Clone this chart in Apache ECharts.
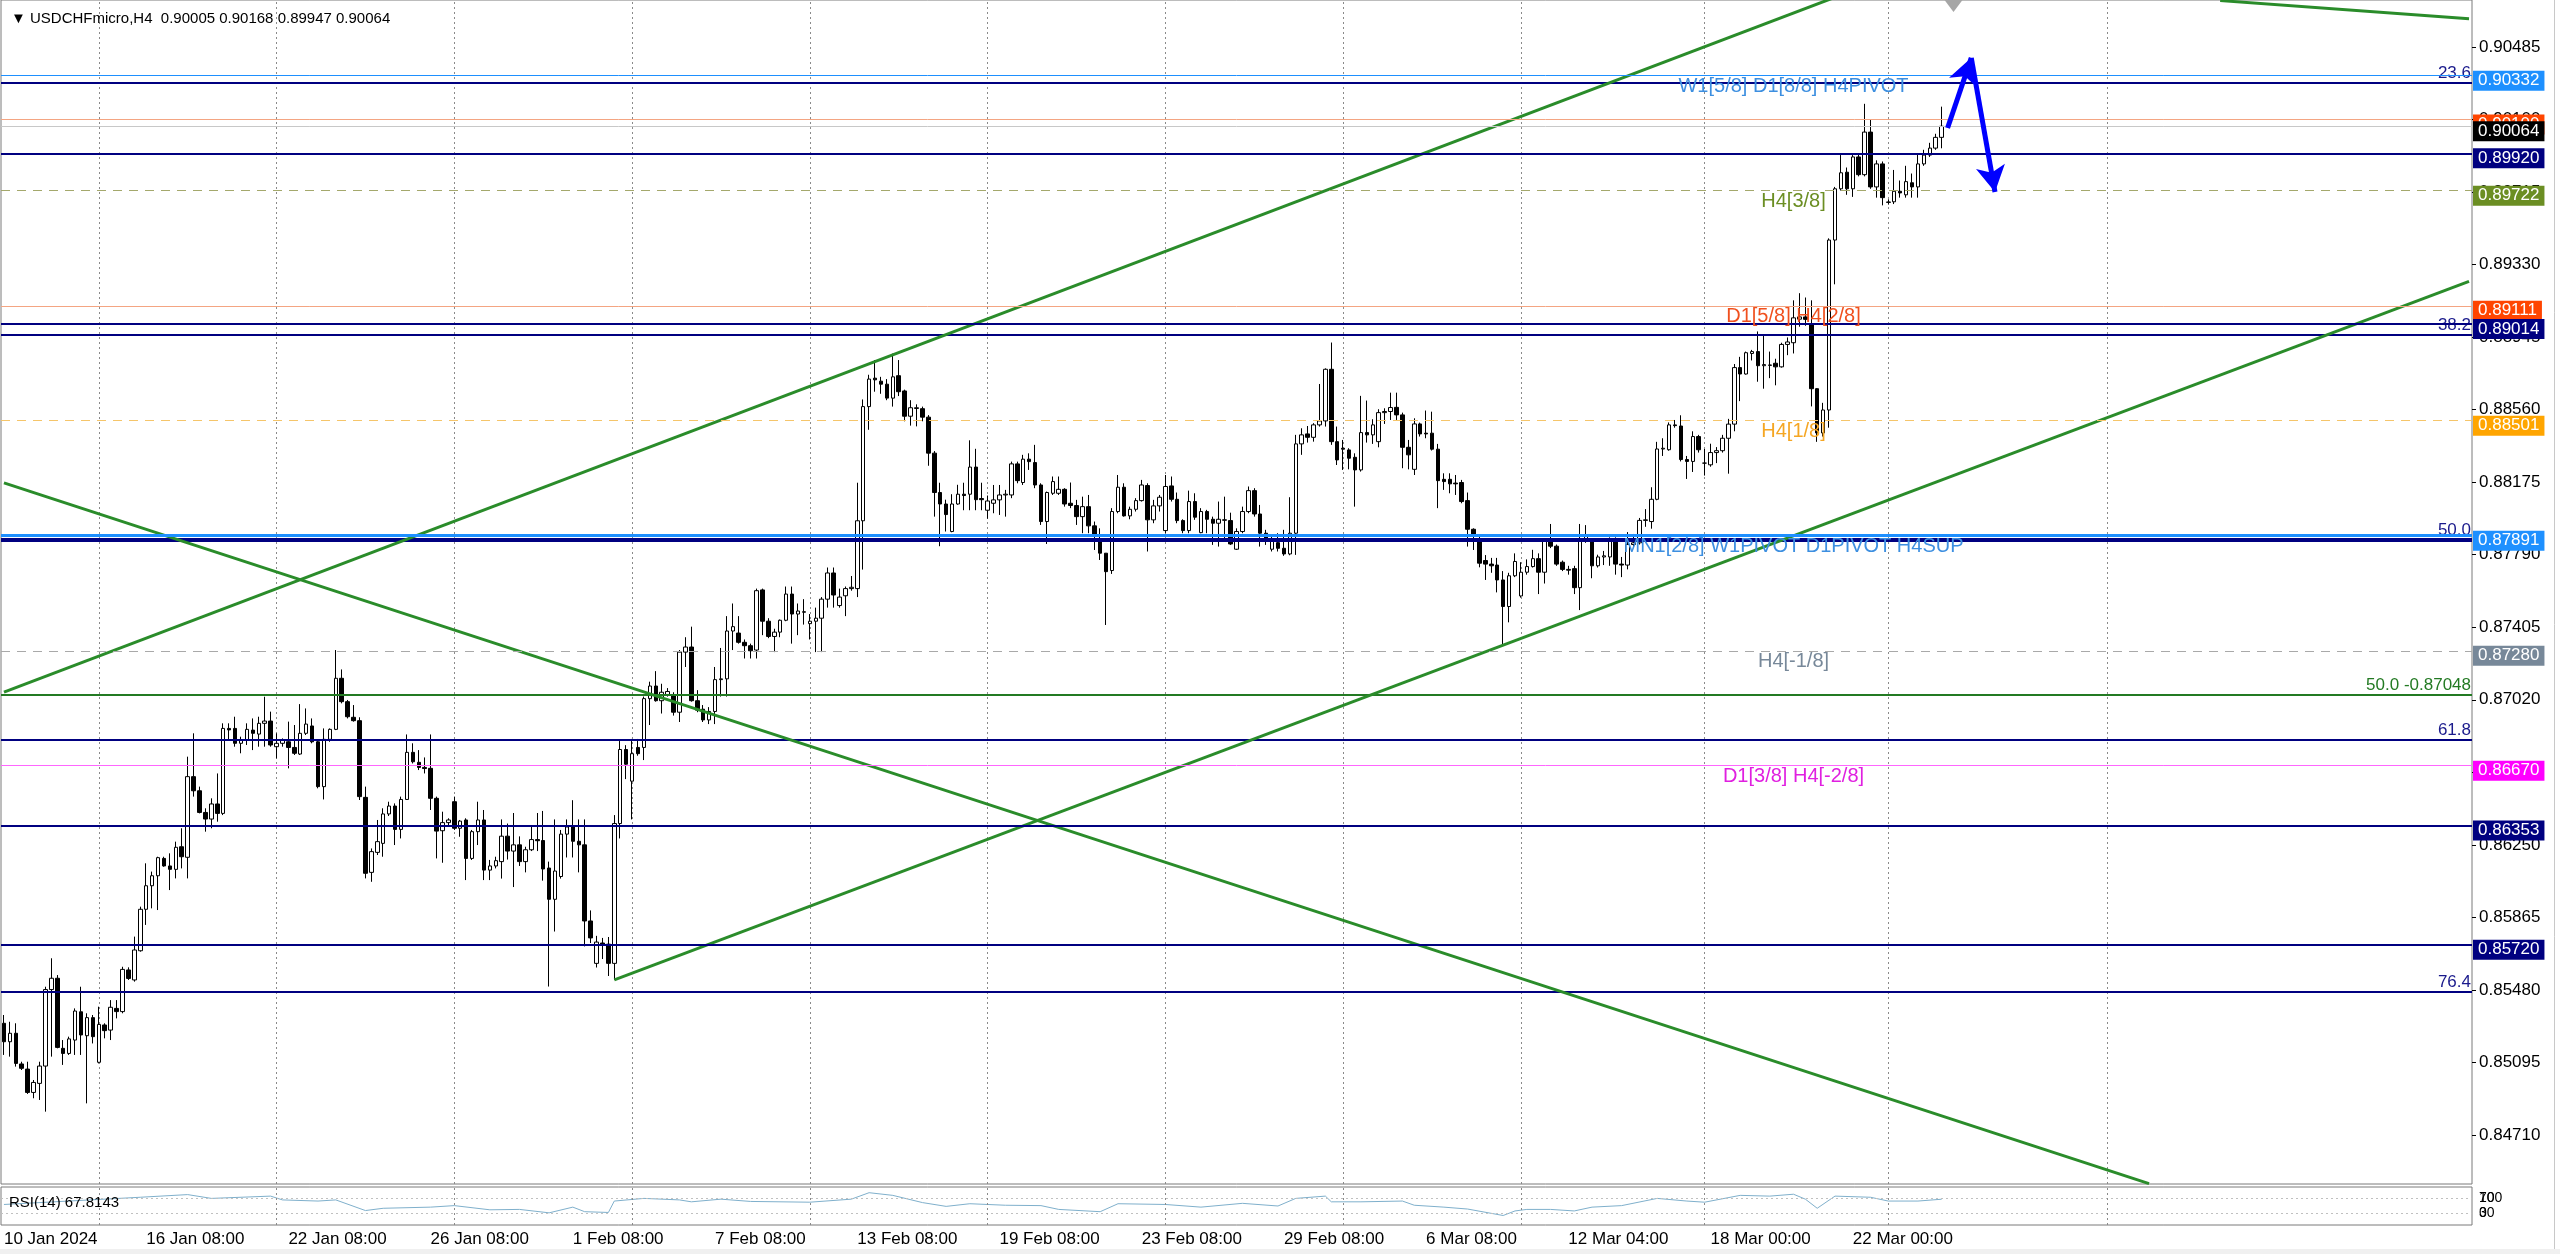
<!DOCTYPE html>
<html><head><meta charset="utf-8">
<script src="https://cdn.jsdelivr.net/npm/echarts@6/dist/echarts.min.js"></script>
<style>html,body{margin:0;padding:0;background:#fff;overflow:hidden}#c{width:2560px;height:1254px}</style>
</head><body><div id="c"></div>
<script>
const symbolName = 'USDCHFmicro,H4';
const opens = [0.85303,0.85205,0.85250,0.85087,0.85060,0.84936,0.84984,0.85076,0.85482,0.85542,
0.85170,0.85143,0.85214,0.85364,0.85237,0.85333,0.85096,0.85294,0.85267,0.85382,
0.85365,0.85586,0.85533,0.85688,0.85908,0.86033,0.86086,0.86178,0.86138,0.86120,
0.86240,0.86184,0.86612,0.86537,0.86422,0.86387,0.86467,0.86417,0.86868,0.86868,
0.86789,0.86806,0.86859,0.86838,0.86895,0.86907,0.86771,0.86789,0.86797,0.86767,
0.86732,0.86842,0.86881,0.86797,0.86559,0.86810,0.86863,0.87134,0.87010,0.86927,
0.86909,0.86502,0.86104,0.86210,0.86258,0.86414,0.86456,0.86332,0.86491,0.86741,
0.86688,0.86661,0.86656,0.86497,0.86325,0.86368,0.86479,0.86338,0.86382,0.86178,
0.86320,0.86382,0.86116,0.86138,0.86161,0.86296,0.86217,0.86250,0.86161,0.86224,
0.86278,0.86273,0.86127,0.85961,0.86082,0.86307,0.86345,0.86269,0.86250,0.85846,
0.85621,0.85729,0.85723,0.85621,0.86363,0.86756,0.86588,0.86767,0.86767,0.87026,
0.87093,0.87015,0.87048,0.87048,0.86954,0.87273,0.87300,0.87015,0.86970,0.86913,
0.86958,0.87127,0.87131,0.87385,0.87374,0.87325,0.87307,0.87284,0.87603,0.87437,
0.87356,0.87379,0.87442,0.87581,0.87475,0.87487,0.87424,0.87437,0.87453,0.87554,
0.87693,0.87520,0.87572,0.87610,0.87610,0.87970,0.88576,0.88727,0.88711,0.88695,
0.88621,0.88740,0.88659,0.88525,0.88566,0.88565,0.88520,0.88329,0.88120,0.88059,
0.87913,0.88059,0.88111,0.88111,0.88255,0.88088,0.88026,0.88063,0.88081,0.88107,
0.88107,0.88272,0.88173,0.88297,0.88279,0.88160,0.87966,0.88116,0.88116,0.88137,
0.88063,0.88051,0.87992,0.88045,0.87943,0.87868,0.87798,0.87706,0.88019,0.88148,
0.87996,0.88031,0.88077,0.88157,0.87975,0.88049,0.87918,0.88155,0.88084,0.87971,
0.87918,0.88072,0.87907,0.88019,0.87978,0.87957,0.87975,0.87971,0.87819,0.87913,
0.88019,0.88130,0.88006,0.87904,0.87819,0.87854,0.87824,0.87794,0.87904,0.88378,
0.88431,0.88413,0.88479,0.88500,0.88774,0.88390,0.88355,0.88346,0.88307,0.88240,
0.88438,0.88426,0.88390,0.88544,0.88550,0.88572,0.88532,0.88360,0.88243,0.88484,
0.88435,0.88435,0.88350,0.88190,0.88190,0.88170,0.88173,0.88077,0.87925,0.87860,
0.87759,0.87740,0.87735,0.87656,0.87515,0.87678,0.87571,0.87697,0.87727,0.87769,
0.87697,0.87863,0.87835,0.87750,0.87712,0.87716,0.87615,0.87872,0.87867,0.87731,
0.87778,0.87778,0.87867,0.87740,0.87735,0.87844,0.87853,0.87972,0.87966,0.88084,
0.88351,0.88347,0.88479,0.88473,0.88295,0.88285,0.88417,0.88276,0.88267,0.88332,
0.88342,0.88408,0.88483,0.88783,0.88749,0.88858,0.88868,0.88793,0.88797,0.88806,
0.88787,0.88906,0.88915,0.89040,0.89052,0.89014,0.88671,0.88436,0.88558,0.89460,
0.89732,0.89820,0.89732,0.89901,0.89807,0.90033,0.89742,0.89864,0.89662,0.89663,
0.89719,0.89700,0.89764,0.89742,0.89864,0.89911,0.89948,0.90005];
const highs = [0.85347,0.85311,0.85303,0.85099,0.85099,0.85002,0.85099,0.85497,0.85648,0.85559,
0.85214,0.85232,0.85382,0.85497,0.85356,0.85347,0.85391,0.85303,0.85426,0.85426,
0.85603,0.85600,0.85763,0.85922,0.86152,0.86108,0.86187,0.86187,0.86205,0.86267,
0.86338,0.86718,0.86842,0.86559,0.86444,0.86497,0.86629,0.86895,0.86895,0.86930,
0.86824,0.86895,0.86921,0.86930,0.87036,0.86957,0.86842,0.86815,0.86904,0.86886,
0.86997,0.86974,0.86921,0.86806,0.86868,0.86868,0.87284,0.87181,0.87019,0.86992,
0.86927,0.86559,0.86231,0.86382,0.86444,0.86479,0.86470,0.86506,0.86836,0.86789,
0.86753,0.86714,0.86836,0.86506,0.86426,0.86391,0.86506,0.86382,0.86391,0.86329,
0.86479,0.86435,0.86170,0.86187,0.86385,0.86363,0.86419,0.86295,0.86240,0.86352,
0.86419,0.86430,0.86161,0.86385,0.86329,0.86385,0.86487,0.86385,0.86385,0.85902,
0.85767,0.85756,0.85761,0.86408,0.86801,0.86779,0.86812,0.86812,0.87037,0.87116,
0.87172,0.87105,0.87082,0.87060,0.87284,0.87352,0.87408,0.87071,0.86992,0.86981,
0.87194,0.87295,0.87464,0.87531,0.87464,0.87340,0.87318,0.87610,0.87610,0.87453,
0.87397,0.87446,0.87621,0.87621,0.87531,0.87554,0.87475,0.87509,0.87565,0.87722,
0.87722,0.87610,0.87621,0.87677,0.88172,0.88614,0.88745,0.88823,0.88734,0.88722,
0.88857,0.88823,0.88666,0.88610,0.88588,0.88576,0.88531,0.88340,0.88172,0.88082,
0.88111,0.88161,0.88172,0.88397,0.88352,0.88172,0.88104,0.88160,0.88160,0.88134,
0.88284,0.88284,0.88320,0.88328,0.88373,0.88169,0.88125,0.88205,0.88205,0.88143,
0.88173,0.88081,0.88098,0.88107,0.87966,0.87930,0.87798,0.88037,0.88213,0.88169,
0.88045,0.88090,0.88187,0.88169,0.88081,0.88107,0.88213,0.88205,0.88120,0.87978,
0.88130,0.88116,0.88037,0.88028,0.87992,0.88072,0.88098,0.88013,0.87930,0.88045,
0.88152,0.88143,0.88054,0.87922,0.87886,0.87904,0.87922,0.88095,0.88426,0.88461,
0.88473,0.88488,0.88696,0.88779,0.88916,0.88470,0.88399,0.88355,0.88328,0.88633,
0.88608,0.88509,0.88562,0.88567,0.88650,0.88650,0.88544,0.88399,0.88514,0.88491,
0.88555,0.88549,0.88378,0.88222,0.88222,0.88213,0.88187,0.88120,0.87930,0.87886,
0.87788,0.87773,0.87773,0.87703,0.87694,0.87797,0.87750,0.87765,0.87816,0.87797,
0.87878,0.87953,0.87844,0.87759,0.87731,0.87731,0.87953,0.87947,0.87872,0.87790,
0.87810,0.87882,0.87882,0.87778,0.87910,0.87900,0.87985,0.88032,0.88148,0.88389,
0.88408,0.88492,0.88505,0.88530,0.88314,0.88445,0.88426,0.88351,0.88379,0.88361,
0.88426,0.88511,0.88802,0.88840,0.88868,0.88877,0.88975,0.88953,0.88868,0.88830,
0.88915,0.88943,0.89140,0.89178,0.89155,0.89140,0.88674,0.88596,0.89469,0.89742,
0.89911,0.89845,0.89911,0.89915,0.90183,0.90102,0.89883,0.89877,0.89676,0.89832,
0.89776,0.89854,0.89813,0.89915,0.89939,0.89976,0.90024,0.90168];
const lows = [0.85135,0.85126,0.85073,0.85055,0.84928,0.84905,0.84896,0.84834,0.85126,0.85170,
0.85082,0.85135,0.85135,0.85135,0.84878,0.85196,0.85090,0.85223,0.85214,0.85329,
0.85356,0.85533,0.85524,0.85683,0.85825,0.85913,0.85904,0.86134,0.86010,0.86072,
0.86125,0.86072,0.86506,0.86417,0.86320,0.86338,0.86373,0.86408,0.86806,0.86771,
0.86736,0.86780,0.86753,0.86771,0.86771,0.86771,0.86709,0.86771,0.86656,0.86727,
0.86727,0.86833,0.86789,0.86550,0.86491,0.86797,0.86859,0.87001,0.86921,0.86904,
0.86488,0.86072,0.86054,0.86196,0.86187,0.86403,0.86249,0.86284,0.86488,0.86682,
0.86647,0.86629,0.86435,0.86178,0.86155,0.86355,0.86329,0.86293,0.86063,0.86170,
0.86249,0.86063,0.86063,0.86125,0.86071,0.86172,0.86026,0.86138,0.86104,0.86217,
0.86217,0.86060,0.85498,0.85790,0.86071,0.86183,0.86183,0.86104,0.85711,0.85729,
0.85599,0.85644,0.85554,0.85533,0.86284,0.86599,0.86385,0.86723,0.86700,0.86886,
0.87010,0.86947,0.87037,0.86936,0.86902,0.87194,0.87010,0.86954,0.86902,0.86891,
0.86891,0.87037,0.87037,0.87284,0.87318,0.87239,0.87239,0.87239,0.87363,0.87347,
0.87273,0.87352,0.87437,0.87318,0.87363,0.87419,0.87340,0.87273,0.87273,0.87509,
0.87509,0.87509,0.87464,0.87599,0.87565,0.87711,0.88453,0.88655,0.88644,0.88610,
0.88576,0.88632,0.88498,0.88475,0.88471,0.88498,0.88262,0.87992,0.87835,0.87913,
0.87909,0.88055,0.88026,0.88026,0.88026,0.88026,0.87981,0.88010,0.88001,0.87992,
0.88090,0.88169,0.88160,0.88240,0.88143,0.87948,0.87847,0.88107,0.88107,0.88045,
0.88037,0.87948,0.87904,0.87904,0.87815,0.87762,0.87417,0.87688,0.88010,0.87992,
0.87978,0.88019,0.88072,0.87807,0.87957,0.88019,0.87904,0.88072,0.87957,0.87904,
0.87904,0.87975,0.87904,0.87904,0.87842,0.87833,0.87860,0.87842,0.87815,0.87904,
0.88010,0.87992,0.87833,0.87842,0.87807,0.87807,0.87784,0.87787,0.87789,0.88320,
0.88385,0.88390,0.88470,0.88470,0.88373,0.88266,0.88240,0.88243,0.88045,0.88231,
0.88385,0.88378,0.88360,0.88484,0.88505,0.88505,0.88249,0.88243,0.88213,0.88417,
0.88408,0.88343,0.88037,0.88134,0.88116,0.88107,0.88063,0.87833,0.87815,0.87723,
0.87656,0.87694,0.87590,0.87308,0.87431,0.87671,0.87562,0.87684,0.87722,0.87581,
0.87637,0.87825,0.87731,0.87703,0.87684,0.87581,0.87496,0.87853,0.87665,0.87722,
0.87735,0.87731,0.87684,0.87671,0.87712,0.87825,0.87844,0.87938,0.87928,0.88079,
0.88314,0.88342,0.88464,0.88285,0.88192,0.88229,0.88332,0.88210,0.88257,0.88276,
0.88332,0.88220,0.88445,0.88605,0.88746,0.88821,0.88708,0.88671,0.88727,0.88689,
0.88783,0.88849,0.88858,0.89000,0.89005,0.88577,0.88389,0.88417,0.88464,0.89225,
0.89723,0.89700,0.89689,0.89798,0.89798,0.89732,0.89685,0.89644,0.89648,0.89651,
0.89685,0.89685,0.89685,0.89685,0.89854,0.89901,0.89939,0.89947];
const closes = [0.85205,0.85250,0.85090,0.85064,0.84936,0.84989,0.85076,0.85482,0.85542,0.85175,
0.85143,0.85220,0.85368,0.85241,0.85333,0.85232,0.85297,0.85264,0.85388,0.85365,
0.85589,0.85541,0.85692,0.85908,0.86033,0.86086,0.86182,0.86138,0.86120,0.86237,
0.86187,0.86612,0.86537,0.86422,0.86387,0.86467,0.86417,0.86868,0.86860,0.86789,
0.86806,0.86863,0.86842,0.86895,0.86907,0.86780,0.86789,0.86806,0.86767,0.86736,
0.86842,0.86891,0.86797,0.86559,0.86810,0.86863,0.87134,0.87010,0.86930,0.86909,
0.86506,0.86099,0.86214,0.86267,0.86414,0.86456,0.86332,0.86491,0.86741,0.86691,
0.86661,0.86655,0.86497,0.86323,0.86368,0.86382,0.86338,0.86376,0.86178,0.86320,
0.86382,0.86116,0.86138,0.86166,0.86296,0.86217,0.86250,0.86161,0.86224,0.86278,
0.86272,0.86122,0.85961,0.86111,0.86307,0.86345,0.86269,0.86250,0.85846,0.85756,
0.85734,0.85718,0.85621,0.86363,0.86756,0.86678,0.86734,0.86734,0.87026,0.87093,
0.87015,0.87060,0.87064,0.86954,0.87273,0.87300,0.87015,0.86965,0.86913,0.86958,
0.87127,0.87131,0.87385,0.87408,0.87325,0.87307,0.87280,0.87599,0.87437,0.87356,
0.87379,0.87442,0.87581,0.87475,0.87491,0.87485,0.87437,0.87453,0.87554,0.87693,
0.87576,0.87565,0.87610,0.87617,0.87970,0.88576,0.88722,0.88718,0.88695,0.88621,
0.88734,0.88655,0.88525,0.88570,0.88570,0.88520,0.88329,0.88120,0.88059,0.88003,
0.88059,0.88111,0.88104,0.88255,0.88082,0.88082,0.88075,0.88081,0.88107,0.88111,
0.88272,0.88183,0.88297,0.88284,0.88160,0.87966,0.88120,0.88178,0.88137,0.88059,
0.88051,0.87992,0.88045,0.87943,0.87900,0.87798,0.87700,0.88019,0.88148,0.87996,
0.88031,0.88077,0.88160,0.87975,0.88049,0.88095,0.88152,0.88084,0.87971,0.87918,
0.88072,0.87989,0.88019,0.87978,0.87957,0.87978,0.87973,0.87847,0.87913,0.88019,
0.88130,0.88006,0.87904,0.87868,0.87868,0.87824,0.87794,0.87904,0.88378,0.88426,
0.88413,0.88479,0.88500,0.88774,0.88390,0.88293,0.88350,0.88302,0.88240,0.88438,
0.88426,0.88479,0.88544,0.88550,0.88571,0.88532,0.88360,0.88320,0.88484,0.88431,
0.88431,0.88350,0.88183,0.88178,0.88166,0.88166,0.88072,0.87925,0.87900,0.87745,
0.87740,0.87731,0.87656,0.87515,0.87678,0.87754,0.87697,0.87727,0.87769,0.87697,
0.87863,0.87835,0.87740,0.87712,0.87708,0.87615,0.87872,0.87891,0.87731,0.87778,
0.87784,0.87867,0.87740,0.87735,0.87844,0.87853,0.87972,0.87975,0.88084,0.88351,
0.88355,0.88479,0.88475,0.88295,0.88285,0.88417,0.88347,0.88276,0.88332,0.88342,
0.88408,0.88483,0.88783,0.88749,0.88862,0.88868,0.88793,0.88799,0.88795,0.88787,
0.88906,0.88919,0.89047,0.89052,0.89039,0.88671,0.88436,0.88558,0.89460,0.89732,
0.89817,0.89732,0.89901,0.89807,0.90033,0.89742,0.89864,0.89685,0.89660,0.89719,
0.89710,0.89770,0.89742,0.89864,0.89911,0.89948,0.90005,0.90064];

const slotCount = 417;
const xLabelBars = [0,24,48,72,96,120,144,168,192,216,240,264,288,312];
const xLabelTexts = ['10 Jan 2024','16 Jan 08:00','22 Jan 08:00','26 Jan 08:00','1 Feb 08:00','7 Feb 08:00','13 Feb 08:00','19 Feb 08:00','23 Feb 08:00','29 Feb 08:00','6 Mar 08:00','12 Mar 04:00','18 Mar 00:00','22 Mar 00:00'];
const gridBars = [16,46,76,106,136,166,196,226,256,287,318,355];
const yTickValues = [0.90485,0.90100,0.89715,0.89330,0.88945,0.88560,0.88175,0.87790,0.87405,0.87020,0.86635,0.86250,0.85865,0.85480,0.85095,0.84710];
const yMin = 0.84450, yMax = 0.90734;

const rsiBars = [0,23,31,35,45,47,53,56,61,64,72,76,82,87,92,96,98,102,103,108,114,116,121,126,136,143,146,150,155,159,163,169,175,178,185,188,196,202,209,215,218,223,224,229,236,238,243,247,253,255,257,261,265,268,273,279,284,287,293,298,302,304,306,309,315,318,323,327];
const rsiValues = [54,73,80,70,76,66,63,66,38,44,47,51,40,41,32,47,35,33,63,70,66,61,68,62,60,68,85,78,59,49,56,52,51,41,35,56,54,47,57,50,70,76,61,61,63,52,47,42,25,37,41,41,37,47,51,70,63,60,78,76,81,68,44,76,73,63,63,67.81];
const rsiLast = 67.8143;
const rsiLevels = [70, 30];

const boxLevelValues = [0.90332,0.90100,0.90064,0.89920,0.89722,0.89111,0.89014,0.88501,0.87891,0.87280,0.86670,0.86353,0.85720];
const fibValues = [0.90294,0.88958,0.87868,0.86807,0.85471];
const fibNames = ['23.6','38.2','50.0','61.8','76.4'];
const greenLevel = 0.87048;
const greenLevelText = '50.0 -0.87048';
const levelTextPrices = [0.90332,0.89722,0.89111,0.88501,0.87891,0.87280,0.86670];
const levelTexts = ['W1[5/8] D1[8/8] H4PIVOT','H4[3/8]','D1[5/8] H4[2/8]','H4[1/8]','MN1[2/8] W1PIVOT D1PIVOT H4SUP','H4[-1/8]','D1[3/8] H4[-2/8]'];
const levelTextBar = 302;
const trendLines = [
  [[0,0.87061],[330,0.90999]],
  [[103,0.85533],[416,0.89241]],
  [[0,0.88171],[362,0.84452]],
  [[374,0.90731],[416,0.90634]]
];
const arrowPoints = [[328,0.90055],[332,0.90427],[336,0.89715]];
const shiftMarker = [329, 0.90702];

// ---------- styles ----------
const font = '"Liberation Sans", Arial, sans-serif';
const boxStyles = [
  {line:'#1e90ff', w:1, type:'solid', box:'#1e90ff'},
  {line:'#f4a582', w:1, type:'solid', box:'#ff4500'},
  {line:'#c8c8c8', w:1, type:'solid', box:'#000000'},
  {line:'#000080', w:2, type:'solid', box:'#000080'},
  {line:'#a4a86c', w:1, type:[9,7], box:'#6b8e23'},
  {line:'#f4a582', w:1, type:'solid', box:'#ff4500'},
  {line:'#000080', w:2, type:'solid', box:'#000080'},
  {line:'#f5c56a', w:1, type:[9,7], box:'#ffa500'},
  {line:'#1e90ff', w:3, type:'solid', box:'#1e90ff'},
  {line:'#a9a9a9', w:1, type:[9,7], box:'#778899'},
  {line:'#ff66ff', w:1, type:'solid', box:'#ff00ff'},
  {line:'#000080', w:2, type:'solid', box:'#000080'},
  {line:'#000080', w:2, type:'solid', box:'#000080'}
];
const textColors = ['#3d8fe0','#6b8e23','#f0501e','#f5a623','#3d8fe0','#778899','#e020e0'];
const fibWidths = [2,2,4,2,2];

const cats = Array.from({length: slotCount}, (_, i) => String(i));
const candleData = opens.map((o, i) => [o, closes[i], lows[i], highs[i]]);
const labelMap = {};
xLabelBars.forEach((b, i) => { labelMap[b] = xLabelTexts[i]; });
const last = opens.length - 1;
const titleText = '\u25BC ' + symbolName + '  ' + [opens[last], highs[last], lows[last], closes[last]].map(v => v.toFixed(5)).join(' ');

const vGrid = gridBars.map(b => ({xAxis: b}));

const chart = echarts.init(document.getElementById('c'), null, {renderer: 'canvas'});
const option = {
  animation: false,
  backgroundColor: '#ffffff',
  title: [
    {text: titleText, left: 6, top: 6, textStyle: {fontSize: 15, fontWeight: 'normal', color: '#000', fontFamily: font}},
    {text: 'RSI(14) ' + rsiLast.toFixed(4), left: 4, top: 1190, textStyle: {fontSize: 15, fontWeight: 'normal', color: '#000', fontFamily: font}}
  ],
  grid: [
    {left: 1, right: 88, top: 0, height: 1184, show: true, borderColor: '#7a7a7a', borderWidth: 1, backgroundColor: 'transparent'},
    {left: 1, right: 88, top: 1187, height: 38, show: true, borderColor: '#7a7a7a', borderWidth: 1, backgroundColor: 'transparent'}
  ],
  xAxis: [
    {type: 'category', data: cats, gridIndex: 0, boundaryGap: true, axisLine: {show: false}, axisTick: {show: false}, axisLabel: {show: false}, splitLine: {show: false}},
    {type: 'category', data: cats, gridIndex: 1, boundaryGap: true, axisLine: {show: false}, axisTick: {show: false}, splitLine: {show: false},
      axisLabel: {show: true, interval: (i) => labelMap[i] !== undefined, formatter: (v, i) => labelMap[i] || '', align: 'left', fontSize: 17, color: '#000', margin: 6, fontFamily: font}}
  ],
  yAxis: [
    {type: 'value', gridIndex: 0, position: 'right', min: yMin, max: yMax, axisLine: {show: false}, splitLine: {show: false},
      axisTick: {show: true, length: 4, lineStyle: {color: '#000'}, customValues: yTickValues},
      axisLabel: {show: true, customValues: yTickValues, formatter: v => v.toFixed(5), fontSize: 17, color: '#000', margin: 7, fontFamily: font}},
    {type: 'value', gridIndex: 1, position: 'right', min: 0, max: 100, axisLine: {show: false}, splitLine: {show: false}, axisTick: {show: false},
      axisLabel: {show: true, customValues: rsiLevels, formatter: v => String(v), fontSize: 14, lineHeight: 12, hideOverlap: false, color: '#000', margin: 7, fontFamily: font}},
    {type: 'value', gridIndex: 1, position: 'right', min: 0, max: 100, axisLine: {show: false}, splitLine: {show: false}, axisTick: {show: false},
      axisLabel: {show: true, customValues: rsiLevels, formatter: v => (v === 70 ? '100' : '0'), fontSize: 14, lineHeight: 12, hideOverlap: false, color: '#000', margin: 7, fontFamily: font}}
  ],
  series: [
    {
      type: 'line', name: 'grid', xAxisIndex: 0, yAxisIndex: 0, data: [], silent: true, z: 1,
      markLine: {silent: true, z: 1, precision: 5, symbol: ['none', 'none'], label: {show: false}, animation: false,
        lineStyle: {color: '#8a8a8a', width: 1, type: [2, 3]}, data: vGrid}
    },
    {
      type: 'candlestick', name: symbolName, xAxisIndex: 0, yAxisIndex: 0, data: candleData, barWidth: 4, z: 2,
      itemStyle: {color: '#ffffff', color0: '#000000', borderColor: '#000000', borderColor0: '#000000', borderWidth: 1}
    },
    {
      type: 'line', name: 'fib', xAxisIndex: 0, yAxisIndex: 0, data: [], silent: true, z: 3,
      markLine: {silent: true, z: 3, precision: 5, symbol: ['none', 'none'], animation: false,
        data: fibValues.map((v, i) => ({
          yAxis: v,
          lineStyle: {color: '#000080', width: fibWidths[i], type: 'solid'},
          label: {show: true, position: 'insideEndTop', formatter: fibNames[i], color: '#1a1a8c', fontSize: 17, fontFamily: font, distance: 1}
        })).concat([{
          yAxis: greenLevel,
          lineStyle: {color: '#237a23', width: 2, type: 'solid'},
          label: {show: true, position: 'insideEndTop', formatter: greenLevelText, color: '#237a23', fontSize: 17, fontFamily: font, distance: 1}
        }])}
    },
    {
      type: 'line', name: 'levels', xAxisIndex: 0, yAxisIndex: 0, data: [], silent: true, z: 5,
      markLine: {silent: true, z: 5, precision: 5, symbol: ['none', 'none'], animation: false,
        data: boxLevelValues.map((v, i) => ({
          yAxis: v,
          lineStyle: {color: boxStyles[i].line, width: boxStyles[i].w, type: boxStyles[i].type},
          label: {show: true, position: 'end', formatter: v.toFixed(5), color: '#ffffff', backgroundColor: boxStyles[i].box,
            padding: [2, 5, 1, 5], fontSize: 17, fontFamily: font, distance: 1, offset: [0, 5]}
        }))}
    },
    ...trendLines.map((seg, k) => ({
      type: 'line', name: 'trend' + k, xAxisIndex: 0, yAxisIndex: 0, data: seg, symbol: 'none', silent: true, z: 4, clip: true,
      lineStyle: {color: '#2a8c2a', width: 3}
    })),
    {
      type: 'line', name: 'annot', xAxisIndex: 0, yAxisIndex: 0, data: [], silent: true, z: 6,
      markLine: {silent: true, z: 6, precision: 5, animation: false, symbol: ['none', 'arrow'], symbolSize: [22, 26],
        lineStyle: {color: '#0000ff', width: 5, type: 'solid'}, label: {show: false},
        data: [
          [{coord: arrowPoints[0]}, {coord: arrowPoints[1]}],
          [{coord: arrowPoints[1]}, {coord: arrowPoints[2]}]
        ]},
      markPoint: {silent: true, z: 6, animation: false,
        data: levelTextPrices.map((p, i) => ({
          coord: [levelTextBar, p], symbol: 'circle', symbolSize: 1, itemStyle: {color: 'rgba(0,0,0,0)'},
          label: {show: true, position: 'inside', formatter: levelTexts[i], color: textColors[i], fontSize: 20, fontFamily: font, offset: [0, 11]}
        })).concat([{
          coord: shiftMarker, symbol: 'triangle', symbolRotate: 180, symbolSize: [18, 12], itemStyle: {color: '#a6a6a6'}, label: {show: false}
        }])}
    },
    {
      type: 'line', name: 'RSI', xAxisIndex: 1, yAxisIndex: 1, data: rsiBars.map((b, i) => [b, rsiValues[i]]), symbol: 'none', silent: true,
      lineStyle: {color: '#7fb0cc', width: 1}, z: 3,
      markLine: {silent: true, precision: 5, symbol: ['none', 'none'], animation: false, label: {show: false},
        data: rsiLevels.map(v => ({yAxis: v, lineStyle: {color: '#c0c0c0', width: 1, type: [2, 3]}}))
          .concat(vGrid.map(g => ({xAxis: g.xAxis, lineStyle: {color: '#8a8a8a', width: 1, type: [2, 3]}})))}
    }
  ],
  graphic: [
    {type: 'line', shape: {x1: 2554.5, y1: 0, x2: 2554.5, y2: 1249}, style: {stroke: '#c8c8c8', lineWidth: 1}, silent: true},
    {type: 'rect', shape: {x: 0, y: 1249, width: 2560, height: 5}, style: {fill: '#f0f0f0'}, silent: true}
  ]
};
chart.setOption(option);
</script>
</body></html>
